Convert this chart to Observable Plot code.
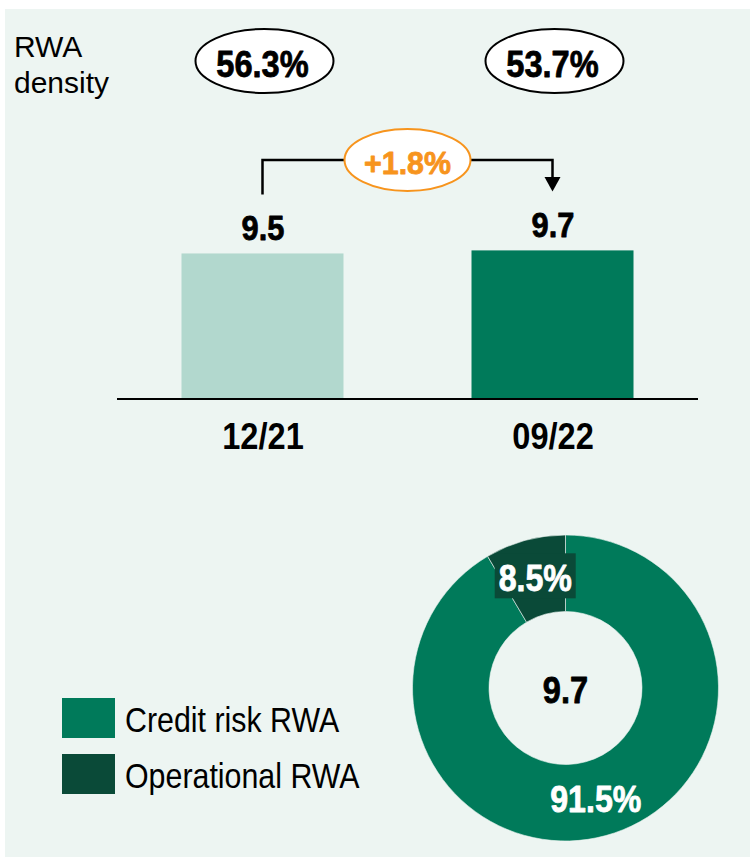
<!DOCTYPE html>
<html>
<head>
<meta charset="utf-8">
<script src="https://cdn.jsdelivr.net/npm/d3@7"></script>
<script src="https://cdn.jsdelivr.net/npm/@observablehq/plot@0.6"></script>
<style>
  html, body { margin: 0; padding: 0; background: #ffffff; }
  body { width: 750px; height: 857px; position: relative; overflow: hidden; font-family: "Liberation Sans", Arial, sans-serif; color: #000; }
  #panel { position: absolute; left: 5px; top: 9px; width: 745px; height: 848px; background: #edf5f2; }
  #chart { position: absolute; left: 0; top: 0; width: 750px; height: 857px; }
  #title { position: absolute; left: 14px; top: 29px; font-size: 30px; line-height: 35.5px; white-space: nowrap; }
  .legend-row { position: absolute; left: 62px; height: 40px; }
  .legend-swatch { position: absolute; left: 0; top: 0; width: 53px; height: 40px; }
  .legend-label { position: absolute; left: 62.5px; font-size: 34.5px; line-height: 34px; white-space: nowrap; transform: scaleX(0.88); transform-origin: left center; }
</style>
</head>
<body>
<div id="panel"></div>
<div id="chart"></div>
<div id="title">RWA<br>density</div>
<div id="legend"></div>
<script>
// ---- data ----
const categories = ["12/21", "09/22"];
const rwaValues = [9.5, 9.7];
const densityLabels = ["56.3%", "53.7%"];
const barColors = ["#b2d8ce", "#007a5a"];
const changeLabel = "+1.8%";
const donutLabels = ["Credit risk RWA", "Operational RWA"];
const donutShares = [91.5, 8.5];
const donutColors = ["#007a5a", "#0a4a38"];
const donutTotal = 9.7;

const bars = categories.map((cat, i) => ({cat, value: rwaValues[i], density: densityLabels[i]}));
const donut = donutLabels.map((label, i) => ({label, share: donutShares[i]}));
const donutColor = Plot.scale({color: {type: "ordinal", domain: donutLabels, range: donutColors}});

const K = 0.88; // horizontal condensation of the bold narrow type
const ORANGE = "#f7941d";

function bandCenter(scales, c) {
  const bw = typeof scales.x.bandwidth === "function" ? scales.x.bandwidth() : 0;
  return scales.x(c) + bw / 2;
}

function boldText(g, x, y, size, fill, str, k) {
  const t = g.append("text").attr("transform", `translate(${x},${y})`)
    .attr("text-anchor", "middle").attr("font-size", size).attr("font-weight", "bold")
    .attr("fill", fill).attr("stroke", fill).attr("stroke-width", 0.8)
    .attr("stroke-linejoin", "round").attr("paint-order", "stroke").text(str);
  if (k != null) t.attr("data-k", k);
  return t;
}

// density ellipses above each bar
function densityMark(index, scales) {
  const g = d3.create("svg:g");
  bars.forEach(d => {
    const cx = bandCenter(scales, d.cat);
    g.append("ellipse").attr("cx", cx + 2).attr("cy", 61).attr("rx", 69).attr("ry", 32)
      .attr("fill", "#fff").attr("stroke", "#000").attr("stroke-width", 2);
    boldText(g, cx, 76.5, 37, "#000", d.density);
  });
  return g.node();
}

// change bracket with arrow and orange ellipse
function changeMark(index, scales) {
  const x0 = bandCenter(scales, categories[0]);
  const x1 = bandCenter(scales, categories[1]);
  const yTop = 160;
  const y0 = scales.y(rwaValues[0]) - 59;
  const y1 = scales.y(rwaValues[1]) - 59;
  const g = d3.create("svg:g");
  g.append("path").attr("d", `M${x0},${y0}V${yTop}H${x1}V${y1 - 12}`)
    .attr("fill", "none").attr("stroke", "#000").attr("stroke-width", 2.5);
  g.append("path").attr("d", `M${x1 - 8},${y1 - 14.5}L${x1 + 8},${y1 - 14.5}L${x1},${y1}Z`).attr("fill", "#000");
  const cx = (x0 + x1) / 2;
  g.append("ellipse").attr("cx", cx).attr("cy", yTop).attr("rx", 63).attr("ry", 31)
    .attr("fill", "#fff").attr("stroke", ORANGE).attr("stroke-width", 2);
  boldText(g, cx, 173.5, 32, ORANGE, changeLabel, 0.95);
  return g.node();
}

// donut of the RWA split
function donutMark() {
  const cx = 565.5, cy = 688, r0 = 76.5, r1 = 153;
  const arcs = d3.pie().sort(null).value(d => d.share)(donut);
  const arc = d3.arc().innerRadius(r0).outerRadius(r1);
  const g = d3.create("svg:g").attr("transform", `translate(${cx},${cy})`);
  g.selectAll("path").data(arcs).join("path")
    .attr("d", arc).attr("fill", d => donutColor.apply(d.data.label))
    .attr("stroke", "#edf5f2").attr("stroke-width", 0.6);
  arcs.forEach(a => {
    const [lx, ly] = arc.centroid(a);
    if (a.data.share < 20) {
      g.append("rect").attr("x", lx - 40.5).attr("y", ly - 24).attr("width", 81).attr("height", 45)
        .attr("fill", donutColor.apply(a.data.label));
    }
    boldText(g, lx, ly + 13.5, 36.5, "#fff", a.data.share.toFixed(1) + "%");
  });
  boldText(g, 0, 15, 37, "#000", donutTotal.toFixed(1));
  return g.node();
}

const xAxis = Plot.axisX
  ? Plot.axisX({tickSize: 0, tickPadding: 23.5, fontSize: 37, fontWeight: "bold", label: null, stroke: "#000", strokeWidth: 0.8})
  : Plot.text(bars, {x: "cat", frameAnchor: "bottom", text: "cat", dy: 49.5, lineAnchor: "bottom", fontSize: 37, fontWeight: "bold"});

const chart = Plot.plot({
  width: 750,
  height: 857,
  marginLeft: 117,
  marginRight: 52,
  marginTop: 0,
  marginBottom: 458.5,
  style: {fontFamily: "'Liberation Sans', Arial, sans-serif", background: "transparent", color: "#000", overflow: "visible"},
  x: {domain: categories, paddingInner: 0.4414, paddingOuter: 0.2224, align: 0.5, round: false, label: null},
  y: {domain: [0, 26.1], axis: null},
  color: {domain: categories, range: barColors},
  marks: [
    Plot.barY(bars, {x: "cat", y: "value", fill: "cat"}),
    Plot.ruleY([0], {stroke: "#000", strokeWidth: 2}),
    Plot.text(bars, {x: "cat", y: "value", text: d => d.value.toFixed(1), lineAnchor: "bottom", dy: -14, fontSize: 35, fontWeight: "bold", fill: "#000", stroke: "#000", strokeWidth: 0.8}),
    xAxis,
    densityMark,
    changeMark,
    donutMark
  ]
});

// condense bold type horizontally (narrow look of the original)
chart.querySelectorAll("text").forEach(t => {
  const k = t.getAttribute("data-k") != null ? +t.getAttribute("data-k") : K;
  let tr = t.getAttribute("transform") || "";
  const xa = t.getAttribute("x");
  if (xa != null && xa !== "" && !isNaN(+xa)) { tr += ` translate(${+xa},0)`; t.removeAttribute("x"); }
  t.setAttribute("transform", (tr + ` scale(${k},1)`).trim());
});

document.getElementById("chart").appendChild(chart);

// legend
const legend = document.getElementById("legend");
donutLabels.forEach((label, i) => {
  const row = document.createElement("div");
  row.className = "legend-row";
  row.style.top = (698 + 56 * i) + "px";
  const sw = document.createElement("div");
  sw.className = "legend-swatch";
  sw.style.background = donutColor.apply(label);
  const tx = document.createElement("div");
  tx.className = "legend-label";
  tx.style.top = "5px";
  tx.textContent = label;
  row.appendChild(sw);
  row.appendChild(tx);
  legend.appendChild(row);
});
</script>
</body>
</html>
